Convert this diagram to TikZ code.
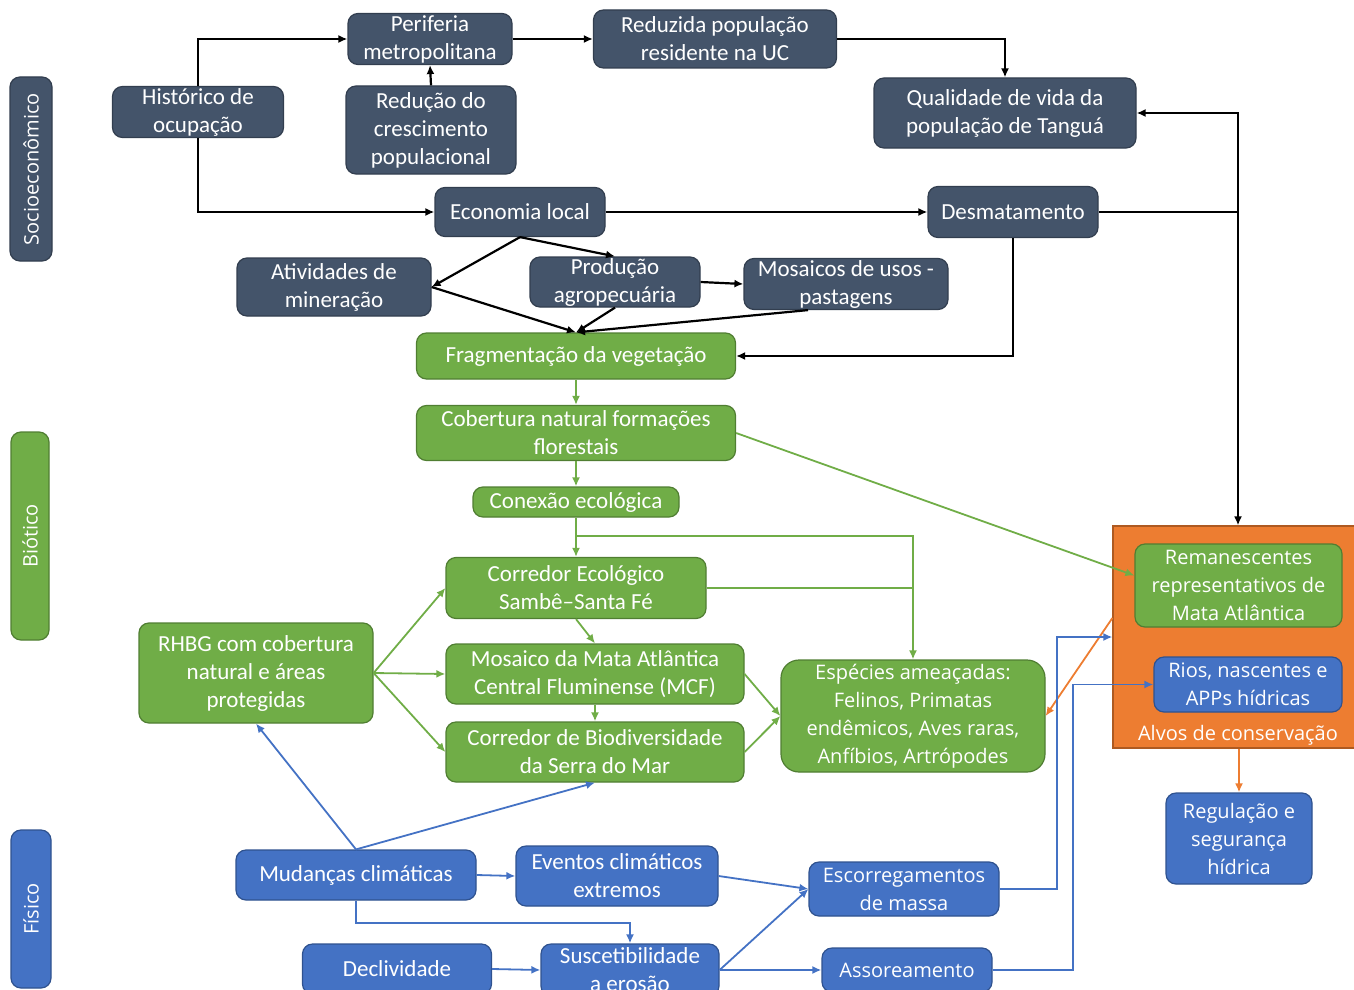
\documentclass[tikz,border=0pt]{standalone}
\usepackage{fontspec}
\setmainfont{Carlito}
\newfontfamily\segoe{Open Sans}
\usetikzlibrary{arrows.meta}

\definecolor{slate}{HTML}{44546A}
\definecolor{slateline}{HTML}{323E4F}
\definecolor{leaf}{HTML}{70AD47}
\definecolor{leafline}{HTML}{507E32}
\definecolor{sea}{HTML}{4472C4}
\definecolor{sealine}{HTML}{2F528F}
\definecolor{tang}{HTML}{ED7D31}
\definecolor{tangline}{HTML}{AE5A21}

\tikzset{
	sz/.style 2 args={minimum width=#1*0.5pt, minimum height=#2*0.5pt},
	box/.style={draw, line width=0.6pt, rounded corners=5pt, align=center, text=white, inner sep=0pt, font=\fontsize{11.5}{14}\selectfont},
	wide/.style={font=\segoe\fontsize{10}{14}\selectfont},
	socbox/.style={box, fill=slate, draw=slateline},
	biobox/.style={box, fill=leaf, draw=leafline},
	fisbox/.style={box, fill=sea, draw=sealine},
	kline/.style={-{Latex[length=4.5pt,width=4pt]}, line width=1.1pt, black},
	gline/.style={-{Latex[length=4.5pt,width=4pt]}, line width=0.9pt, leaf},
	bline/.style={-{Latex[length=4.5pt,width=4pt]}, line width=0.9pt, sea},
	oline/.style={-{Latex[length=4.5pt,width=4pt]}, line width=0.9pt, tang},
}

\begin{document}
\begin{tikzpicture}[x=0.5pt, y=-0.5pt]
	\useasboundingbox (0,0) rectangle (1354,990);
	\clip (0,0) rectangle (1354,990);
	
	% Side labels
	\node[socbox, wide, rotate=90, sz={184}{42}] (lsocio) at (31,169) {Socioeconômico};
	\node[biobox, wide, rotate=90, sz={208}{38}] (lbio) at (30,536) {Biótico};
	\node[fisbox, wide, rotate=90, sz={158}{40}] (lfis) at (31,909) {Físico};
	
	% Socioeconômico
	\node[socbox, sz={171}{51}] (hist) at (198,112) {Histórico de\\ocupação};
	\node[socbox, sz={164}{51}] (perif) at (430,39) {Periferia\\metropolitana};
	\node[socbox, sz={170}{88}] (reduc) at (431,130) {Redução do\\crescimento\\populacional};
	\node[socbox, sz={243}{58}] (redpop) at (715,39) {Reduzida população\\residente na UC};
	\node[socbox, sz={262}{70}] (qual) at (1005,113) {Qualidade de vida da\\população de Tanguá};
	\node[socbox, sz={170}{49}] (eco) at (520,212) {Economia local};
	\node[socbox, sz={170}{51}] (desm) at (1013,212) {Desmatamento};
	\node[socbox, sz={194}{58}] (ativ) at (334,287) {Atividades de\\mineração};
	\node[socbox, sz={170}{50}] (prod) at (615,282) {Produção\\agropecuária};
	\node[socbox, sz={204}{51}] (musos) at (846,284) {Mosaicos de usos -\\pastagens};
	
	% Biótico
	\node[biobox, sz={319}{46}] (frag) at (576,356) {Fragmentação da vegetação};
	\node[biobox, sz={319}{55}] (cob) at (576,433) {Cobertura natural formações\\florestais};
	\node[biobox, sz={206}{30}] (con) at (576,502) {Conexão ecológica};
	\node[biobox, sz={260}{61}] (cor) at (576,588) {Corredor Ecológico\\Sambê–Santa Fé};
	\node[biobox, sz={234}{100}] (rhbg) at (256,673) {RHBG com cobertura\\natural e áreas\\protegidas};
	\node[biobox, sz={298}{60}] (mos) at (595,674) {Mosaico da Mata Atlântica\\Central Fluminense (MCF)};
	\node[biobox, sz={298}{60}] (bio) at (595,752) {Corredor de Biodiversidade\\da Serra do Mar};
	\node[biobox, wide, rounded corners=9pt, sz={264}{112}] (esp) at (913,716) {Espécies ameaçadas:\\Felinos, Primatas\\endêmicos, Aves raras,\\Anfíbios, Artrópodes};
	
	% Alvos de conservação
	\node[draw=tangline, fill=tang, line width=0.6pt, sz={245}{222}] (alvos) at (1235.5,637) {};
	\node[wide, text=white] (alvlab) at (1238,735) {Alvos de conservação};
	\node[biobox, wide, sz={207}{83}] (rem) at (1238.5,585.5) {Remanescentes\\representativos de\\Mata Atlântica};
	\node[fisbox, wide, sz={188}{55}] (rios) at (1248,684.5) {Rios, nascentes e\\APPs hídricas};
	\node[fisbox, wide, sz={146}{91}] (reg) at (1239,838.5) {Regulação e\\segurança\\hídrica};
	
	% Físico
	\node[fisbox, sz={240}{50}] (mud) at (356,875) {Mudanças climáticas};
	\node[fisbox, sz={202}{60}] (eve) at (617,876) {Eventos climáticos\\extremos};
	\node[fisbox, wide, sz={190}{54}] (esc) at (904,889) {Escorregamentos\\de massa};
	\node[fisbox, sz={189}{50}] (decl) at (397,969) {Declividade};
	\node[fisbox, sz={178}{52}] (sus) at (630,970) {Suscetibilidade\\a erosão};
	\node[fisbox, wide, sz={170}{44}] (asso) at (907,970) {Assoreamento};
	
	% Socioeconômico links
	\draw[kline] (hist.north) |- (perif.west);
	\draw[kline] (hist.south) |- (eco.west);
	\draw[kline] (reduc.north) -- (perif.south);
	\draw[kline] (perif.east) -- (redpop.west);
	\draw[kline] (redpop.east) -| (qual.north);
	\draw[kline] (eco.east) -- (desm.west);
	\draw[kline] (eco.south) -- (ativ.east);
	\draw[kline] (eco.south) -- (prod.north);
	\draw[kline] (ativ.east) -- (frag.north);
	\draw[kline] (prod.south) -- (frag.north);
	\draw[kline] (prod.east) -- (musos.west);
	\draw[kline] ([xshift=-19pt]musos.south) -- (frag.north);
	\draw[kline] (desm.south) |- (frag.east);
	\coordinate (jq) at (1238,212);
	\draw[kline] (desm.east) -- (jq) |- (qual.east);
	\draw[kline] (jq) -- (jq |- alvos.north);
	
	% Biótico links
	\draw[gline] (frag.south) -- (cob.north);
	\draw[gline] (cob.south) -- (con.north);
	\draw[gline] (con.south) -- (cor.north);
	\coordinate (jc) at (576,536);
	\draw[gline] (jc) -| (esp.north);
	\draw[gline, -] (cor.east) -- (cor.east -| esp.north);
	\draw[gline] (cor.south) -- (mos.north);
	\draw[gline] (mos.south) -- (bio.north);
	\draw[gline] (rhbg.east) -- (cor.west);
	\draw[gline] (rhbg.east) -- (mos.west);
	\draw[gline] (rhbg.east) -- (bio.west);
	\draw[gline] (mos.east) -- (esp.west);
	\draw[gline] (bio.east) -- (esp.west);
	\draw[gline] (cob.east) -- ([yshift=5pt]rem.west);
	
	% Alvos links
	\draw[oline] ([yshift=9.5pt]alvos.west) -- (esp.east);
	\draw[oline] (alvos.south -| reg.north) -- (reg.north);
	
	% Físico links
	\draw[bline] (mud.north) -- (rhbg.south);
	\draw[bline] (mud.north) -- (bio.south);
	\draw[bline] (mud.east) -- (eve.west);
	\draw[bline] (mud.south) -- ++(0,22) -| (sus.north);
	\draw[bline] (eve.east) -- (esc.west);
	\draw[bline] (decl.east) -- (sus.west);
	\draw[bline] (sus.east) -- (esc.west);
	\draw[bline] (sus.east) -- (asso.west);
	\draw[bline] (esc.east) -- ++(57,0) |- (alvos.west);
	\draw[bline] (asso.east) -- ++(80,0) |- (rios.west);
	
\end{tikzpicture}
\end{document}
